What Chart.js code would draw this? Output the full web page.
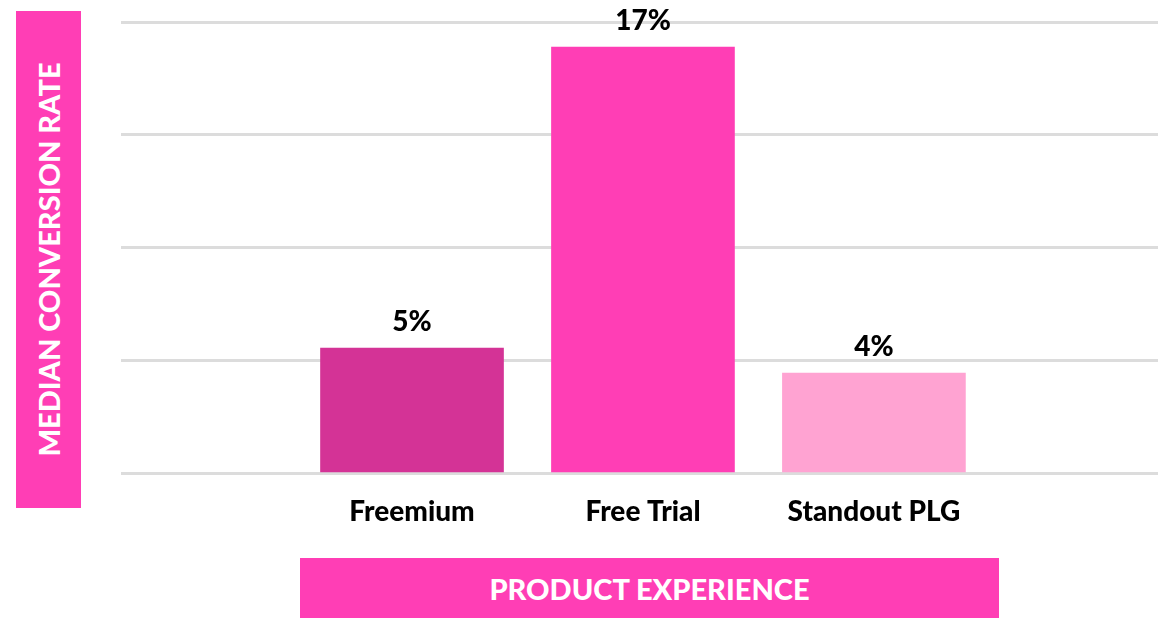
<!DOCTYPE html>
<html>
<head>
<meta charset="utf-8">
<script src="https://cdn.jsdelivr.net/npm/chart.js@4/dist/chart.umd.min.js"></script>
<style>
  html, body { margin: 0; padding: 0; background: #fff; }
  #wrap { position: relative; width: 1158px; height: 619px; overflow: hidden; }
  #chart { position: absolute; left: 0; top: 0; }
  .axis-box {
    position: absolute; background: #ff3eb5; color: #fff;
    font-family: Lato, "Open Sans", sans-serif; font-weight: 900;
    display: flex; align-items: center; justify-content: center;
    white-space: nowrap;
  }
  #y-title { left: 16px; top: 11px; width: 65px; height: 497px; }
  #y-title span { transform: rotate(-90deg); font-size: 29px; display: block; }
  #x-title { left: 300px; top: 558px; width: 699px; height: 60px; font-size: 29px; }
</style>
</head>
<body>
<div id="wrap">
  <canvas id="chart" width="1158" height="619"></canvas>
  <div class="axis-box" id="y-title"><span>MEDIAN CONVERSION RATE</span></div>
  <div class="axis-box" id="x-title">PRODUCT EXPERIENCE</div>
</div>
<script>
// Median conversion rate by product experience
const categories = ['Freemium', 'Free Trial', 'Standout PLG'];
const rates = [5, 17, 4];
const barColors = ['#d43396', '#ff3eb5', '#ffa3d2'];
const gridSteps = [0, 4.5, 9, 13.5, 18];

const labelFont = { family: 'Lato, "Open Sans", sans-serif', size: 28, weight: '900' };

// value labels above each bar
const valueLabels = {
    id: 'valueLabels',
    afterDatasetsDraw(chart) {
        const ctx = chart.ctx;
        const meta = chart.getDatasetMeta(0);
        ctx.save();
        ctx.font = `900 ${labelFont.size}px ${labelFont.family}`;
        ctx.fillStyle = '#000';
        ctx.textAlign = 'center';
        ctx.textBaseline = 'bottom';
        meta.data.forEach((bar, i) => {
            ctx.fillText(rates[i] + '%', bar.x, bar.y - 12);
        });
        ctx.restore();
    }
};

new Chart(document.getElementById('chart'), {
    type: 'bar',
    data: {
        datasets: [{
            data: rates.map((v, i) => ({ x: i, y: v })),
            backgroundColor: barColors,
            borderWidth: 0,
            barThickness: 183
        }]
    },
    options: {
        responsive: false,
        animation: false,
        layout: { padding: { left: 121, right: 0, top: 22, bottom: 68 } },
        plugins: { legend: { display: false }, tooltip: { enabled: false } },
        scales: {
            x: {
                type: 'linear',
                min: -1.26,
                max: 3.23,
                bounds: 'data',
                offset: false,
                afterBuildTicks: (scale) => { scale.ticks = categories.map((_, i) => ({ value: i })); },
                ticks: {
                    callback: (v) => categories[v],
                    color: '#000',
                    font: labelFont,
                    padding: 22,
                    maxRotation: 0,
                    autoSkip: false
                },
                grid: { display: false, drawTicks: false },
                border: { display: false }
            },
            y: {
                min: 0,
                max: 18,
                afterBuildTicks: (scale) => { scale.ticks = gridSteps.map(v => ({ value: v })); },
                ticks: { display: false },
                grid: { color: '#dcdcdc', lineWidth: 3, drawTicks: false },
                border: { display: false }
            }
        }
    },
    plugins: [valueLabels]
});
</script>
</body>
</html>
